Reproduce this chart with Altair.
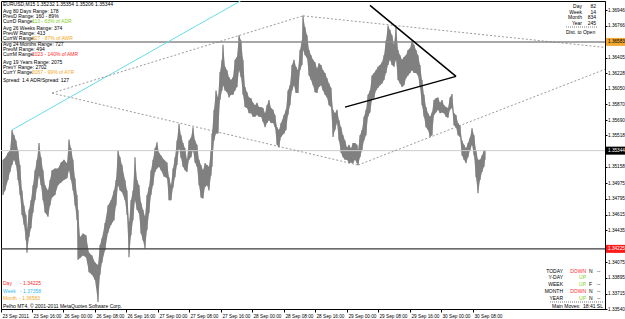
import altair as alt
import pandas as pd

FONT = "Liberation Sans"

# ---------------- price data (M15 bars: bar index, high, low) ----------------
bar = [3,5,8,10,12,14,16,18,20,22,
       24,26,27,29,31,33,35,37,39,41,
       43,45,48,50,52,55,58,61,64,67,
       69,71,73,75,77,78,80,83,86,89,
       92,95,98,100,102,105,108,111,114,116,
       118,120,122,125,127,129,131,133,135,137,
       139,141,143,145,147,149,151,153,155,157,
       159,161,164,167,169,171,173,175,177,179,
       181,183,185,187,189,191,193,195,197,199,
       201,203,205,207,209,211,212,214,216,218,
       220,222,223,225,227,229,231,233,235,237,
       239,241,243,245,247,249,251,253,255,257,
       259,261,263,265,267,269,271,273,275,277,
       279,281,284,286,288,290,292,294,296,298,
       300,302,303,305,307,309,311,313,315,317,
       319,321,323,325,327,329,331,333,335,337,
       339,341,343,345,347,349,351,353,355,357,
       358,360,362,364,366,368,370,372,374,376,
       378,380,382,384,386,388,390,392,394,396,
       398,400,402,404,406,408,410,412,414,416,
       418,420,422,424,426,428,430,432,434,436,
       438,440,442,444,446,448,450,452,454,456,
       458,460,462,464,466,468,470,472,474,476,
       478,480,482,484,485]
high = [1.3524,1.3526,1.3532,1.3535,1.3558,1.3552,1.3546,1.3535,1.3518,1.3489,
        1.3472,1.3461,1.3444,1.3467,1.3478,1.3495,1.3512,1.3524,1.3543,1.3527,
        1.3512,1.3495,1.3489,1.3501,1.3512,1.3514,1.3514,1.3521,1.3524,1.3520,
        1.3547,1.3537,1.3524,1.3503,1.3484,1.3467,1.3436,1.3440,1.3438,1.3418,
        1.3415,1.3407,1.3404,1.3427,1.3435,1.3452,1.3472,1.3478,1.3489,1.3501,
        1.3535,1.3527,1.3518,1.3501,1.3489,1.3452,1.3478,1.3489,1.3527,1.3501,
        1.3495,1.3475,1.3467,1.3459,1.3484,1.3493,1.3512,1.3524,1.3537,1.3544,
        1.3532,1.3529,1.3524,1.3521,1.3504,1.3495,1.3514,1.3527,1.3546,1.3565,
        1.3552,1.3543,1.3537,1.3524,1.3546,1.3549,1.3561,1.3546,1.3541,1.3524,
        1.3518,1.3512,1.3520,1.3518,1.3516,1.3535,1.3554,1.3581,1.3603,1.3595,
        1.3624,1.3638,1.3655,1.3630,1.3626,1.3618,1.3615,1.3618,1.3638,1.3641,
        1.3666,1.3660,1.3638,1.3607,1.3601,1.3595,1.3594,1.3589,1.3586,1.3589,
        1.3584,1.3584,1.3583,1.3577,1.3586,1.3592,1.3583,1.3581,1.3575,1.3561,
        1.3558,1.3566,1.3575,1.3581,1.3603,1.3609,1.3632,1.3638,1.3630,1.3626,
        1.3649,1.3660,1.3688,1.3675,1.3666,1.3649,1.3643,1.3638,1.3635,1.3628,
        1.3634,1.3632,1.3626,1.3623,1.3617,1.3611,1.3606,1.3581,1.3577,1.3581,
        1.3569,1.3561,1.3552,1.3546,1.3538,1.3541,1.3537,1.3543,1.3543,1.3541,
        1.3535,1.3552,1.3558,1.3573,1.3581,1.3598,1.3603,1.3620,1.3623,1.3626,
        1.3630,1.3632,1.3635,1.3643,1.3660,1.3677,1.3672,1.3666,1.3655,1.3676,
        1.3649,1.3643,1.3638,1.3641,1.3643,1.3649,1.3651,1.3660,1.3655,1.3649,
        1.3643,1.3632,1.3615,1.3598,1.3584,1.3577,1.3573,1.3578,1.3592,1.3594,
        1.3595,1.3589,1.3592,1.3586,1.3584,1.3583,1.3595,1.3599,1.3577,1.3575,
        1.3566,1.3563,1.3546,1.3541,1.3537,1.3543,1.3549,1.3560,1.3552,1.3535,
        1.3524,1.3524,1.3529,1.3535,1.3535]
low = [1.3484,1.3489,1.3501,1.3510,1.3518,1.3524,1.3518,1.3501,1.3484,1.3461,
       1.3450,1.3432,1.3418,1.3436,1.3446,1.3464,1.3478,1.3492,1.3506,1.3495,
       1.3478,1.3464,1.3459,1.3472,1.3481,1.3484,1.3495,1.3498,1.3501,1.3503,
       1.3512,1.3501,1.3489,1.3472,1.3455,1.3410,1.3412,1.3415,1.3413,1.3396,
       1.3393,1.3387,1.3362,1.3393,1.3407,1.3421,1.3441,1.3450,1.3455,1.3472,
       1.3495,1.3489,1.3487,1.3478,1.3461,1.3413,1.3438,1.3455,1.3478,1.3467,
       1.3463,1.3440,1.3432,1.3423,1.3444,1.3463,1.3484,1.3495,1.3510,1.3514,
       1.3516,1.3512,1.3505,1.3503,1.3478,1.3478,1.3492,1.3504,1.3518,1.3537,
       1.3526,1.3516,1.3512,1.3510,1.3524,1.3527,1.3535,1.3521,1.3516,1.3495,
       1.3481,1.3480,1.3493,1.3495,1.3489,1.3506,1.3516,1.3546,1.3554,1.3554,
       1.3592,1.3603,1.3609,1.3603,1.3601,1.3595,1.3598,1.3598,1.3603,1.3607,
       1.3626,1.3618,1.3598,1.3584,1.3583,1.3577,1.3577,1.3573,1.3573,1.3575,
       1.3573,1.3573,1.3567,1.3561,1.3566,1.3569,1.3566,1.3566,1.3561,1.3541,
       1.3538,1.3550,1.3554,1.3558,1.3575,1.3586,1.3603,1.3609,1.3600,1.3600,
       1.3626,1.3632,1.3649,1.3643,1.3640,1.3620,1.3615,1.3609,1.3601,1.3600,
       1.3607,1.3609,1.3603,1.3598,1.3595,1.3586,1.3584,1.3550,1.3558,1.3566,
       1.3546,1.3532,1.3527,1.3524,1.3524,1.3520,1.3521,1.3520,1.3524,1.3520,
       1.3518,1.3527,1.3535,1.3546,1.3552,1.3573,1.3578,1.3592,1.3594,1.3603,
       1.3606,1.3609,1.3611,1.3615,1.3623,1.3632,1.3638,1.3632,1.3630,1.3638,
       1.3615,1.3611,1.3607,1.3609,1.3617,1.3620,1.3623,1.3626,1.3623,1.3623,
       1.3620,1.3607,1.3586,1.3573,1.3561,1.3558,1.3550,1.3552,1.3575,1.3578,
       1.3581,1.3577,1.3578,1.3577,1.3573,1.3572,1.3581,1.3583,1.3563,1.3561,
       1.3552,1.3550,1.3529,1.3524,1.3520,1.3527,1.3535,1.3541,1.3529,1.3504,
       1.3486,1.3501,1.3510,1.3516,1.3524]

# ---------------- axes ----------------
x_tick_bars = [1, 32, 63, 95, 126, 158, 189, 221, 252, 284, 315, 347, 378, 410, 441, 473]
x_tick_labels = ["23 Sep 2011", "23 Sep 16:00", "26 Sep 00:00", "26 Sep 08:00", "26 Sep 16:00",
                 "27 Sep 00:00", "27 Sep 08:00", "27 Sep 16:00", "28 Sep 00:00", "28 Sep 08:00",
                 "28 Sep 16:00", "29 Sep 00:00", "29 Sep 08:00", "29 Sep 16:00", "30 Sep 00:00",
                 "30 Sep 08:00"]
y_tick_prices = [1.36946, 1.36766, 1.36405, 1.36228, 1.36050, 1.35870, 1.35690, 1.35518,
                 1.35158, 1.34975, 1.34795, 1.34615, 1.34435, 1.34075, 1.33895, 1.33715, 1.33540]

# ---------------- levels ----------------
month_open = 1.36583
bid_price = 1.35344
day_open = 1.34225
week_open = 1.37358

# ---------------- trend lines ----------------
cyan_bar = [12, 242]
cyan_price = [1.3558, 1.3706]
dot_seg = ["a", "a", "b", "b", "c", "c", "d", "d"]
dot_bar = [52, 303, 303, 605, 52, 358, 358, 605]
dot_price = [1.3600, 1.3688, 1.3688, 1.3652, 1.3600, 1.3518, 1.3518, 1.3627]
blk_seg = ["e", "e", "f", "f"]
blk_bar = [370, 456, 345, 456]
blk_price = [1.3700, 1.3619, 1.3584, 1.3619]

W, H = 604, 308
xs = alt.Scale(domain=[1, 605], nice=False, zero=False)
ys = alt.Scale(domain=[1.33540, 1.37049], nice=False, zero=False)
AXF = 4.7

label_expr = "[" + ",".join("'%s'" % s for s in x_tick_labels) + "][indexof([" + \
    ",".join(str(v) for v in x_tick_bars) + "], datum.value)]"

XAX = alt.Axis(values=x_tick_bars, labelExpr=label_expr, labelAlign="left", labelOffset=1,
               labelBaseline="top", labelPadding=1, tickSize=3, tickColor="black",
               labelFontSize=AXF, labelFont=FONT, labelColor="black", labelOverlap=False,
               labelFlush=False, domainColor="black", grid=False, title=None)
YAX = alt.Axis(orient="right", values=y_tick_prices, format=".5f", tickSize=2, tickColor="black",
               labelPadding=0.5, labelFontSize=AXF, labelFont=FONT, labelColor="black",
               labelOverlap=False, labelFlush=False, labelBound=False,
               domainColor="black", grid=False, title=None)


def X(f):
    return alt.X(f, scale=xs, axis=XAX, title=None)


def Y(f):
    return alt.Y(f, scale=ys, axis=YAX, title=None)


price_df = pd.DataFrame({"bar": bar, "high": high, "low": low})

band = alt.Chart(price_df).mark_area(color="#808080", interpolate="linear", clip=True).encode(
    x=X("bar:Q"), y=Y("high:Q"), y2="low:Q")
spikes = alt.Chart(price_df).mark_rule(color="#808080", strokeWidth=1.2, clip=True).encode(
    x=X("bar:Q"), y=Y("high:Q"), y2="low:Q")


def hline(price, color, width):
    return alt.Chart(pd.DataFrame({"p": [price]})).mark_rule(color=color, strokeWidth=width).encode(
        y=Y("p:Q"))


hlines = [hline(month_open, "#8a8a8a", 1.5), hline(bid_price, "#cccccc", 1),
          hline(day_open, "#3c3c3c", 1.2)]

cyan = alt.Chart(pd.DataFrame({"bar": cyan_bar, "p": cyan_price})).mark_line(
    color="#66dde8", strokeWidth=1, clip=True).encode(x=X("bar:Q"), y=Y("p:Q"))

dots = alt.Chart(pd.DataFrame({"seg": dot_seg, "bar": dot_bar, "p": dot_price})).mark_line(
    color="#808080", strokeWidth=0.8, strokeDash=[2, 2], clip=True).encode(
    x=X("bar:Q"), y=Y("p:Q"), detail="seg:N")

blk = alt.Chart(pd.DataFrame({"seg": blk_seg, "bar": blk_bar, "p": blk_price})).mark_line(
    color="#000000", strokeWidth=1.5, clip=True).encode(
    x=X("bar:Q"), y=Y("p:Q"), detail="seg:N")


def tag(price, bg, fg):
    d = pd.DataFrame({"p": [price], "t": ["%.5f" % price]})
    r = alt.Chart(d).mark_rule(strokeWidth=8, color=bg).encode(
        x=alt.value(W + 1), x2=alt.value(W + 21), y=Y("p:Q"))
    t = alt.Chart(d).mark_text(align="left", baseline="middle", fontSize=AXF, font=FONT,
                               color=fg).encode(
        x=alt.value(W + 3), y=Y("p:Q"), text="t:N")
    return [r, t]


tags = tag(month_open, "#f0a830", "#000000") + tag(bid_price, "#000000", "#ffffff") + \
    tag(day_open, "#ff1a1a", "#ffffff")

one = pd.DataFrame({"k": [0]})


def txt(s, sx, sy, color="black", align="left", size=5):
    return alt.Chart(one).mark_text(text=s, align=align, baseline="middle", fontSize=size,
                                    font=FONT, color=color).encode(
        x=alt.value(sx - 1), y=alt.value(sy - 1))


def dash(sx1, sx2, sy):
    return alt.Chart(one).mark_rule(color="#555555", strokeDash=[1, 1], strokeWidth=0.8).encode(
        x=alt.value(sx1 - 1), x2=alt.value(sx2 - 1), y=alt.value(sy - 1))


GREEN = "#80d020"
ORANGE = "#f5a623"
RED = "#ff2a2a"
CYANT = "#33bbee"

texts = [
    txt("EURUSD,M15  1.35232 1.35354 1.35206 1.35344", 3, 4),
    txt("Avg 80 Days Range: 178", 3, 11),
    txt("PrevD Range: 160 - 89%", 3, 16),
    txt("CurrD Range:", 3, 21), txt("113 - 63% of ADR", 32, 21, GREEN),
    txt("Avg 26 Weeks Range: 374", 3, 28),
    txt("PrevW Range: 413", 3, 33),
    txt("CurrW Range:", 3, 38), txt("327 - 87% of AWR", 32, 38, ORANGE),
    txt("Avg 24 Months Range: 727", 3, 44),
    txt("PrevM Range: 494", 3, 49),
    txt("CurrM Range:", 3, 54), txt("1023 - 140% of AMR", 32, 54, RED),
    txt("Avg 19 Years Range: 2075", 3, 62),
    txt("PrevY Range: 2702", 3, 67),
    txt("CurrY Range:", 3, 72), txt("2067 - 99% of AYR", 32, 72, ORANGE),
    txt("Spread: 1.4 ADR/Spread: 127", 3, 80),
    # top right box
    txt("Day", 582, 6, align="right"), txt("82", 596, 6, align="right"),
    txt("Week", 582, 12, align="right"), txt("14", 596, 12, align="right"),
    txt("Month", 582, 17, align="right"), txt("834", 596, 17, align="right"),
    txt("Year", 582, 23, align="right"), txt("245", 596, 23, align="right"),
    dash(566, 597, 27),
    txt("Dist. to Open", 566, 32),
    # bottom left
    txt("Day", 3, 283, RED), txt("- 1.34225", 20, 283, RED),
    txt("Week", 3, 291, CYANT), txt("- 1.37358", 20, 291, CYANT),
    txt("Month", 3, 298, ORANGE), txt("- 1.36583", 19, 298, ORANGE),
    txt("Pelho MT4, \u00a9 2001-2011 MetaQuotes Software Corp.", 3, 306),
    # bottom right
    txt("TODAY", 563, 271, align="right"), txt("DOWN", 586, 271, RED, align="right"),
    txt("N", 589, 271), txt("--", 597, 271),
    txt("Y-DAY", 563, 277, align="right"), txt("UP", 586, 277, GREEN, align="right"),
    txt("WEEK", 563, 284, align="right"), txt("UP", 586, 284, GREEN, align="right"),
    txt("F", 589, 284), txt("--", 597, 284),
    txt("MONTH", 563, 291, align="right"), txt("DOWN", 586, 291, RED, align="right"),
    txt("N", 589, 291), txt("--", 597, 291),
    txt("YEAR", 563, 298, align="right"), txt("UP", 586, 298, GREEN, align="right"),
    txt("N", 589, 298), txt("--", 597, 298),
    dash(550, 604, 302),
    txt("Main Moves:", 552, 306), txt("18:41 SL", 603, 306, align="right"),
]

chart = alt.layer(band, spikes, *hlines, cyan, dots, blk, *tags, *texts).properties(
    width=W, height=H,
    padding={"left": 1, "top": 1, "right": 20, "bottom": 10},
    autosize=alt.AutoSizeParams(type="none"),
    background="white",
).configure_view(stroke="black", strokeWidth=1)

chart.save("out.html", embed_options={"renderer": "svg", "actions": False})
